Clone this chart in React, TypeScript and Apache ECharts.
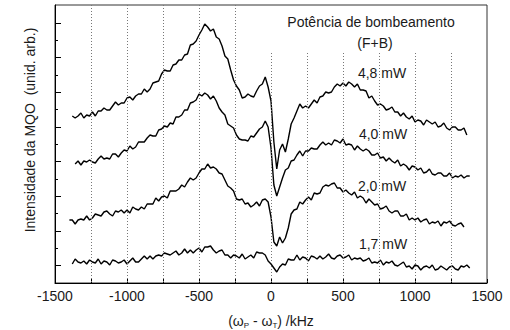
import React, { useEffect, useRef } from "react";
import * as echarts from "echarts";

// Detuning grid (kHz), 20 kHz step
const KHZ_START = -1400;
const KHZ_STEP = 20;

// Signal heights (arb. units) for each pump power, sampled on the grid above
const P48 = [null,167,165,167,170,165,168,167,171,167,172,172,175,173,173,177,181,178,180,180,185,186,183,187,189,189,194,191,194,200,201,202,209,213,212,212,218,219,223,223,228,229,238,239,242,248,253,259,256,252,254,246,244,237,227,224,213,203,197,193,185,186,189,187,186,192,197,199,206,196,182,141,114,133,139,131,144,159,165,172,179,175,177,175,179,183,180,186,187,191,190,191,196,199,197,200,197,201,199,196,199,193,193,192,185,187,182,178,179,177,173,174,176,171,171,167,170,166,164,167,161,163,162,158,163,161,159,161,156,157,160,155,153,156,156,153,153,155,148,null];
const P40 = [null,null,119,122,118,122,121,123,121,120,124,127,124,125,124,129,129,126,130,133,132,137,134,136,141,141,141,145,148,147,147,153,154,157,156,160,159,166,166,168,173,173,180,181,183,189,187,190,188,184,187,182,175,171,168,159,157,155,148,144,143,143,142,147,146,150,154,156,162,156,135,98,87,96,105,113,115,122,123,128,132,127,132,132,135,134,134,138,141,138,140,138,143,142,140,144,138,139,138,133,137,134,132,134,132,128,128,130,125,126,122,125,122,120,123,117,119,117,113,117,116,113,115,110,111,114,109,108,110,110,107,107,110,105,107,106,108,105,107,107];
const P20 = [63,63,59,63,64,63,67,63,65,69,68,67,71,72,69,67,72,71,73,70,73,70,76,74,73,76,74,79,79,79,85,82,86,87,85,92,92,92,94,98,96,101,105,103,105,110,114,114,119,115,116,114,110,109,103,97,95,92,84,83,84,79,80,76,78,81,77,83,84,81,66,41,37,46,40,45,55,69,73,74,81,79,83,86,83,90,89,90,96,98,97,99,100,95,95,91,93,90,88,91,85,87,85,80,84,81,78,79,74,75,77,72,70,72,72,67,67,69,63,65,63,65,61,63,64,59,61,60,62,57,61,60,62,58,57,59,60,56,null,null];
const P17 = [null,19,24,21,20,22,19,23,21,20,24,19,22,21,18,23,22,20,21,23,19,22,25,21,21,24,27,24,27,24,27,28,27,30,29,28,30,32,28,30,34,30,33,30,33,35,31,36,36,37,33,30,32,33,28,28,25,28,27,25,29,24,26,28,25,31,30,30,28,22,19,15,11,16,19,18,24,23,23,28,23,26,25,22,27,26,24,27,24,26,29,25,24,27,28,25,26,28,23,25,24,25,22,23,25,20,21,20,23,18,21,20,22,18,17,19,21,16,17,14,18,17,13,16,17,15,18,13,14,17,15,13,16,17,14,13,17,16,18,15];

const SERIES_NAMES = ["4,8 mW", "4,0 mW", "2,0 mW", "1,7 mW"];
const SERIES_VALUES = [P48, P40, P20, P17];

// Axis ranges and ticks
const X_MIN = -1500;
const X_MAX = 1500;
const X_TICK = 250;
const X_LABEL_STEP = 500;
const Y_MIN = 0;
const Y_MAX = 278;
const Y_MAJOR_TICKS = [17.3, 52, 86.7, 121.3, 156, 190.7, 225.3, 260];
const Y_MINOR_TICKS = [34.7, 69.3, 104, 138.7, 173.3, 208, 242.7];

// Dotted guide lines (kHz) and the height each reaches
const GUIDES_LEFT = [-1250, -1000, -750, -500, -250];
const GUIDES_RIGHT = [0, 250, 500, 750, 1000, 1250];
const GUIDE_TOP_LEFT = 278;
const GUIDE_TOP_RIGHT = 230;

const FONT = "'Liberation Sans', Arial, sans-serif";
const FS = 14;

export default function App() {
  const ref = useRef<HTMLDivElement>(null);

  useEffect(() => {
    if (!ref.current) return;
    const chart = echarts.init(ref.current, null, { renderer: "svg" });

    const khz = P48.map((_, i) => KHZ_START + i * KHZ_STEP);

    const traceSeries = SERIES_VALUES.map((vals, si) => ({
      name: SERIES_NAMES[si],
      type: "line",
      z: 3,
      showSymbol: false,
      symbol: "none",
      connectNulls: false,
      lineStyle: { color: "#000", width: 1.4 },
      data: vals.map((v, i) => [khz[i], v]),
    }));

    const guides = [
      ...GUIDES_LEFT.map((x) => [
        { coord: [x, GUIDE_TOP_LEFT] },
        { coord: [x, Y_MIN] },
      ]),
      ...GUIDES_RIGHT.map((x) => [
        { coord: [x, GUIDE_TOP_RIGHT] },
        { coord: [x, Y_MIN] },
      ]),
    ];

    const txt = (text: string, x: number, y: number, extra: any = {}) => ({
      type: "text",
      x,
      y,
      z: 2,
      style: {
        text,
        font: `${FS}px ${FONT}`,
        fill: "#1a1a1a",
        align: "center",
        verticalAlign: "middle",
        ...extra,
      },
    });

    chart.setOption({
      animation: false,
      backgroundColor: "#fff",
      grid: {
        left: 55,
        top: 5,
        width: 432,
        height: 278,
        show: true,
        borderColor: "#333",
        borderWidth: 1,
        backgroundColor: "transparent",
      },
      xAxis: {
        type: "value",
        min: X_MIN,
        max: X_MAX,
        interval: X_TICK,
        axisLine: { show: true, onZero: false, lineStyle: { color: "#000", width: 1 } },
        axisTick: { show: true, inside: true, length: 4, lineStyle: { color: "#000" } },
        axisLabel: {
          show: true,
          margin: 6,
          fontSize: FS,
          fontFamily: FONT,
          color: "#1a1a1a",
          formatter: (v: number) => (v % X_LABEL_STEP === 0 ? String(v) : ""),
        },
        splitLine: { show: false },
      },
      yAxis: [
        {
          type: "value",
          min: Y_MIN,
          max: Y_MAX,
          axisLine: { show: true, onZero: false, lineStyle: { color: "#000", width: 1 } },
          axisTick: {
            show: true,
            inside: true,
            length: 6,
            customValues: Y_MAJOR_TICKS,
            lineStyle: { color: "#000" },
          },
          axisLabel: { show: false },
          splitLine: { show: false },
        },
        {
          type: "value",
          min: Y_MIN,
          max: Y_MAX,
          position: "left",
          axisLine: { show: false, onZero: false },
          axisTick: {
            show: true,
            inside: true,
            length: 3,
            customValues: Y_MINOR_TICKS,
            lineStyle: { color: "#000" },
          },
          axisLabel: { show: false },
          splitLine: { show: false },
        },
      ],
      series: [
        {
          type: "line",
          z: 1,
          data: [],
          markLine: {
            silent: true,
            symbol: "none",
            animation: false,
            label: { show: false },
            lineStyle: { color: "#777", width: 1, type: [1, 2] },
            data: guides,
          },
        },
        ...traceSeries,
      ],
      graphic: [
        txt("Potência de bombeamento", 371, 22),
        txt("(F+B)", 375, 43),
        txt(SERIES_NAMES[0], 382, 73, { backgroundColor: "#fff", padding: [1, 2] }),
        txt(SERIES_NAMES[1], 383, 134, { backgroundColor: "#fff", padding: [1, 2] }),
        txt(SERIES_NAMES[2], 382, 186, { backgroundColor: "#fff", padding: [1, 2] }),
        txt(SERIES_NAMES[3], 383, 244, { backgroundColor: "#fff", padding: [1, 2] }),
        {
          type: "text",
          x: 30,
          y: 130,
          rotation: Math.PI / 2,
          z: 2,
          style: {
            text: "Intensidade da MQO  (unid. arb.)",
            font: `${FS}px ${FONT}`,
            fill: "#1a1a1a",
            align: "center",
            verticalAlign: "middle",
          },
        },
        {
          type: "text",
          x: 271,
          y: 321,
          z: 2,
          style: {
            text: "{n|(ω}{s|P}{n| - ω}{s|T}{n|) /kHz}",
            align: "center",
            verticalAlign: "middle",
            rich: {
              n: { font: `${FS}px ${FONT}`, fill: "#1a1a1a", lineHeight: 16 },
              s: {
                font: `8px ${FONT}`,
                fill: "#1a1a1a",
                lineHeight: 16,
                verticalAlign: "bottom",
                padding: [6, 0, 0, 0],
              },
            },
          },
        },
      ],
    });

    return () => chart.dispose();
  }, []);

  return (
    <div
      ref={ref}
      style={{ position: "fixed", left: 0, top: 0, width: 510, height: 330 }}
    />
  );
}
